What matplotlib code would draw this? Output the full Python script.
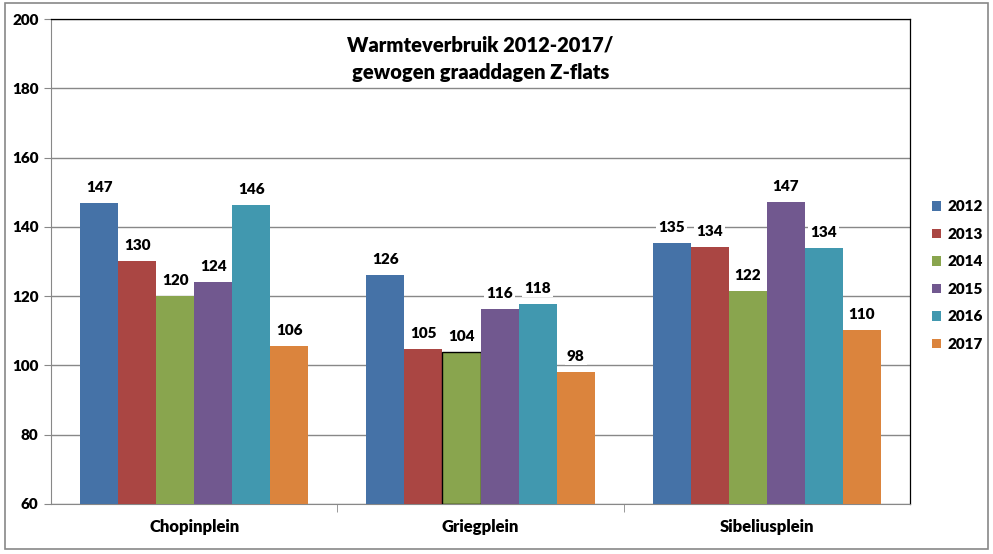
import numpy as np
import matplotlib.pyplot as plt
from matplotlib.patches import Rectangle

plt.rcParams['font.family'] = ['Lato', 'DejaVu Sans']

locations = ['Chopinplein', 'Griegplein', 'Sibeliusplein']
years = ['2012', '2013', '2014', '2015', '2016', '2017']
values = {
    '2012': [147, 126, 135.3],
    '2013': [130.2, 104.6, 134.3],
    '2014': [120, 104, 121.5],
    '2015': [124, 116.3, 147.2],
    '2016': [146.2, 117.7, 134],
    '2017': [105.7, 98, 110.3],
}
labels = {
    '2012': ['147', '126', '135'],
    '2013': ['130', '105', '134'],
    '2014': ['120', '104', '122'],
    '2015': ['124', '116', '147'],
    '2016': ['146', '118', '134'],
    '2017': ['106', '98', '110'],
}
colors = ['#4572A7', '#AA4643', '#89A54E', '#71588F', '#4198AF', '#DB843D']

fig = plt.figure(figsize=(9.93, 5.54), dpi=100)
ax = fig.add_axes([0.0514, 0.0903, 0.865, 0.8754])

# outer chart border
fig.patches.append(Rectangle((0.005, 0.009), 0.99, 0.985, transform=fig.transFigure,
                             fill=False, edgecolor='#888888', linewidth=1.2))

x = np.arange(len(locations))
group = 0.797
w = group / len(years)
for i, yr in enumerate(years):
    pos = x - group / 2 + w * (i + 0.5)
    edges = ['none'] * len(locations)
    if yr == '2014':
        edges[1] = 'black'
    ax.bar(pos, np.array(values[yr]) - 60, w, bottom=60, color=colors[i],
           edgecolor=edges, linewidth=1.0, label=yr, zorder=3)
    for b, v, t in zip(pos, values[yr], labels[yr]):
        ax.annotate(t, (b, v), xytext=(0, 6.5), textcoords='offset points',
                    ha='center', va='bottom', fontsize=11, fontweight='heavy',
                    bbox=dict(facecolor='white', edgecolor='none', pad=1.5), zorder=4)

ax.set_xlim(-0.5, 2.5)
ax.set_ylim(60, 200)
ax.set_yticks(np.arange(60, 201, 20))
ax.tick_params(axis='y', labelsize=11, length=5, color='#888888', pad=4)
for t in ax.get_yticklabels():
    t.set_fontweight('heavy')
ax.set_xticks(x)
ax.set_xticklabels(locations, fontsize=12, fontweight='heavy')
ax.tick_params(axis='x', length=0, pad=11)
ax.set_xticks([0.5, 1.5], minor=True)
ax.tick_params(axis='x', which='minor', length=6, color='#888888')
ax.yaxis.grid(True, color='#888888', linewidth=1.0, zorder=0)
ax.set_axisbelow(True)

for s in ['left', 'bottom']:
    ax.spines[s].set_color('#888888')
for s in ['top', 'right']:
    ax.spines[s].set_color('black')
    ax.spines[s].set_linewidth(0.9)

ax.text(0.5, 0.965, 'Warmteverbruik 2012-2017/\ngewogen graaddagen Z-flats',
        transform=ax.transAxes, ha='center', va='top', fontsize=14.5,
        fontweight='heavy', linespacing=1.5)

ax.legend(loc='center left', bbox_to_anchor=(1.01, 0.471), frameon=False,
          prop={'weight': 'heavy', 'size': 11}, handlelength=0.6,
          handleheight=0.6, handletextpad=0.4, labelspacing=0.95)

fig.savefig('out.png', dpi=100)
